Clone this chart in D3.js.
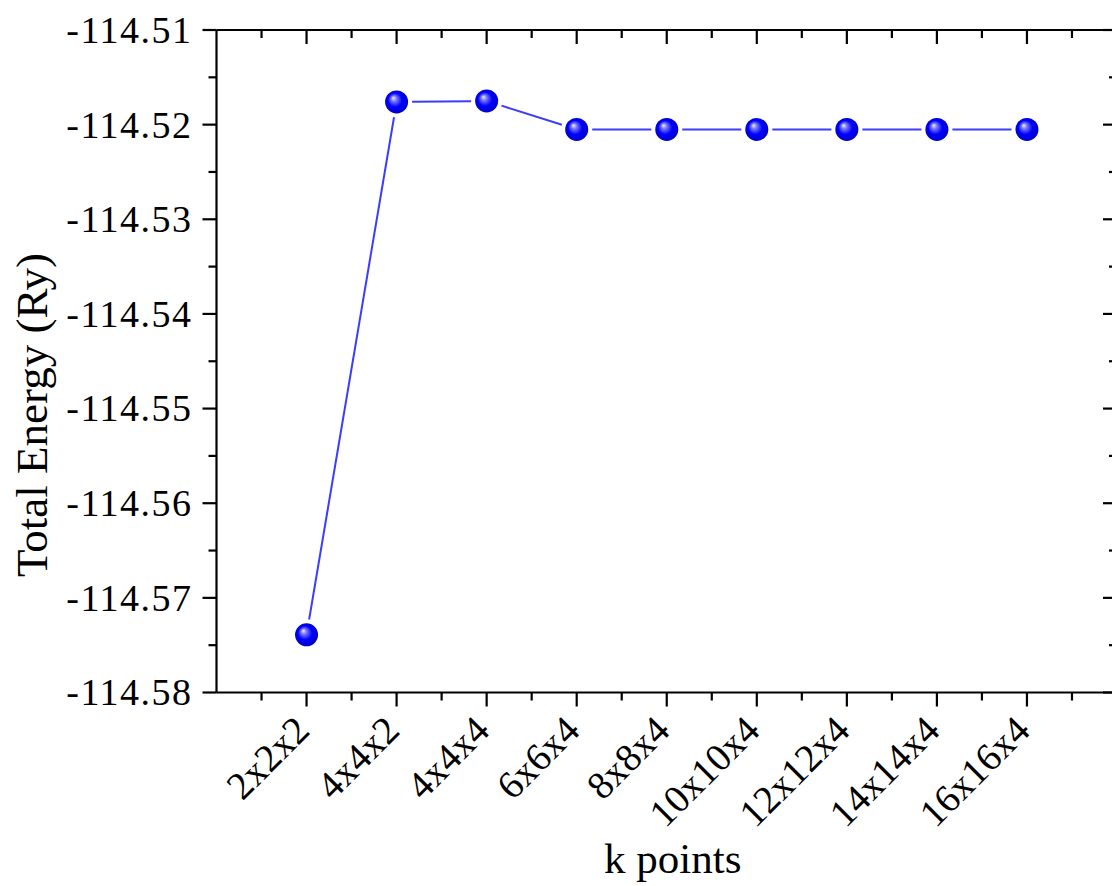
<!DOCTYPE html>
<html>
<head>
<meta charset="utf-8">
<script src="https://cdn.jsdelivr.net/npm/d3@7"></script>
<style>
  html, body { margin: 0; padding: 0; background: #fff; }
  svg { display: block; }
  text { font-family: "Liberation Serif", "Times New Roman", serif; fill: #000; }
</style>
</head>
<body>
<svg id="chart" width="1112" height="886"></svg>
<script>
// k-point grids and converged total energies (Ry)
const kPoints = ["2x2x2", "4x4x2", "4x4x4", "6x6x4", "8x8x4", "10x10x4", "12x12x4", "14x14x4", "16x16x4"];
const totalEnergy = [-114.5739, -114.5176, -114.5175, -114.5205, -114.5205, -114.5205, -114.5205, -114.5205, -114.5205];
const yTicks = [-114.51, -114.52, -114.53, -114.54, -114.55, -114.56, -114.57, -114.58];

const svg = d3.select("#chart");
const plot = { left: 216.5, right: 1117, top: 30, bottom: 692.5 };

// categories sit at positions 1..n, axis spans 0..n+1
const x = d3.scaleLinear().domain([0, kPoints.length + 1]).range([plot.left, plot.right]);
const y = d3.scaleLinear().domain([-114.58, -114.51]).range([plot.bottom, plot.top]);

const majorX = d3.range(1, kPoints.length + 1);
const minorX = d3.range(0.5, kPoints.length + 1.5, 1);
const minorY = d3.range(0, 7).map(i => -114.575 + i * 0.01);

const MAJ = 14, MIN = 8;
const axisColor = "#000";

// frame
const g = svg.append("g");
g.append("line").attr("x1", plot.left).attr("x2", plot.right).attr("y1", plot.top).attr("y2", plot.top)
  .attr("stroke", axisColor).attr("stroke-width", 2.2);
g.append("line").attr("x1", plot.left).attr("x2", plot.right).attr("y1", plot.bottom).attr("y2", plot.bottom)
  .attr("stroke", axisColor).attr("stroke-width", 2.2);
g.append("line").attr("x1", plot.left).attr("x2", plot.left).attr("y1", plot.top).attr("y2", plot.bottom)
  .attr("stroke", axisColor).attr("stroke-width", 2.2);
g.append("line").attr("x1", plot.right).attr("x2", plot.right).attr("y1", plot.top).attr("y2", plot.bottom)
  .attr("stroke", axisColor).attr("stroke-width", 2.2);

function tickLines(data, fn, len) {
  g.selectAll(null).data(data).enter().append("line")
    .each(function(d) { const c = fn(d, len); d3.select(this).attr("x1", c[0]).attr("y1", c[1]).attr("x2", c[2]).attr("y2", c[3]); })
    .attr("stroke", axisColor).attr("stroke-width", 2.2);
}

// bottom axis: outward ticks
tickLines(majorX, (d, l) => [x(d), plot.bottom, x(d), plot.bottom + l], MAJ);
tickLines(minorX, (d, l) => [x(d), plot.bottom, x(d), plot.bottom + l], MIN);
// top axis: inward ticks
tickLines(majorX, (d, l) => [x(d), plot.top, x(d), plot.top + l], MAJ);
tickLines(minorX, (d, l) => [x(d), plot.top, x(d), plot.top + l], MIN);
// left axis: outward ticks
tickLines(yTicks, (d, l) => [plot.left - l, y(d), plot.left, y(d)], MAJ);
tickLines(minorY, (d, l) => [plot.left - l, y(d), plot.left, y(d)], MIN);
// right axis: inward ticks
tickLines(yTicks, (d, l) => [plot.right - l, y(d), plot.right, y(d)], MAJ);
tickLines(minorY, (d, l) => [plot.right - l, y(d), plot.right, y(d)], MIN);

// y tick labels
g.selectAll(null).data(yTicks).enter().append("text")
  .attr("x", plot.left - MAJ - 10)
  .attr("y", d => y(d))
  .attr("dy", "0.34em")
  .attr("text-anchor", "end")
  .attr("font-size", 38)
  .attr("letter-spacing", 1.5)
  .text(d => d.toFixed(2));

// x tick labels, rotated
g.selectAll(null).data(majorX).enter().append("text")
  .attr("transform", d => `translate(${x(d) + 5},${plot.bottom + 40}) rotate(-45)`)
  .attr("text-anchor", "end")
  .attr("font-size", 39)
  .text(d => kPoints[d - 1]);

// axis titles
svg.append("text")
  .attr("x", (plot.left + 1117) / 2 + 6)
  .attr("y", 873)
  .attr("text-anchor", "middle")
  .attr("font-size", 43)
  .text("k points");

svg.append("text")
  .attr("transform", `translate(47,415) rotate(-90)`)
  .attr("text-anchor", "middle")
  .attr("font-size", 45)
  .text("Total Energy (Ry)");

// shaded sphere marker
const defs = svg.append("defs");
const grad = defs.append("radialGradient").attr("id", "ball")
  .attr("cx", "50%").attr("cy", "50%").attr("r", "55%")
  .attr("fx", "35%").attr("fy", "32%");
grad.append("stop").attr("offset", "0%").attr("stop-color", "#f0f0ff");
grad.append("stop").attr("offset", "22%").attr("stop-color", "#7a7aff");
grad.append("stop").attr("offset", "55%").attr("stop-color", "#0000ff");
grad.append("stop").attr("offset", "100%").attr("stop-color", "#0000c0");

const pts = totalEnergy.map((v, i) => ({ px: x(i + 1), py: y(v) }));
const R = 11.5, GAP = R + 4;

// connecting segments, stopping short of each marker
const segs = d3.pairs(pts);
svg.append("g").selectAll("line").data(segs).enter().append("line")
  .each(function([a, b]) {
    const dx = b.px - a.px, dy = b.py - a.py, L = Math.hypot(dx, dy);
    const ux = dx / L, uy = dy / L;
    d3.select(this)
      .attr("x1", a.px + ux * GAP).attr("y1", a.py + uy * GAP)
      .attr("x2", b.px - ux * GAP).attr("y2", b.py - uy * GAP);
  })
  .attr("stroke", "#3c3cff").attr("stroke-width", 2);

svg.append("g").selectAll("circle").data(pts).enter().append("circle")
  .attr("cx", d => d.px).attr("cy", d => d.py).attr("r", R)
  .attr("fill", "url(#ball)");
</script>
</body>
</html>
